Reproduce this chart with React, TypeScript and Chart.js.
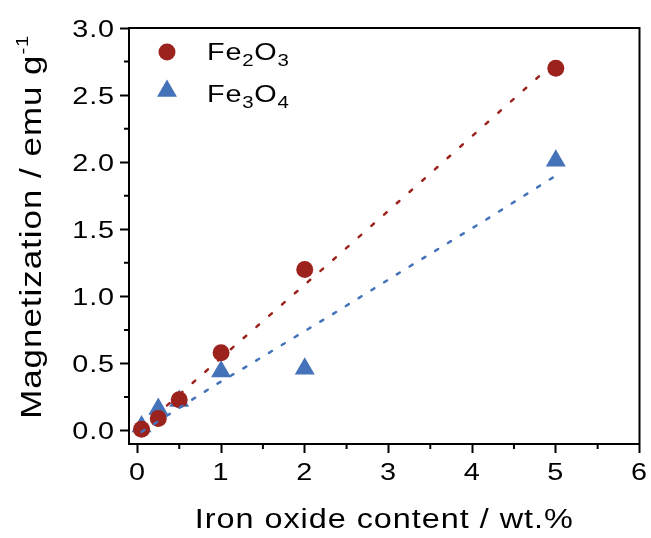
import React, { useEffect, useRef } from "react";
import { Chart, registerables } from "chart.js";

Chart.register(...registerables);

// ---- data ----
const fe2o3X = [0.05, 0.25, 0.5, 1, 2, 5];
const fe2o3Y = [0.01, 0.09, 0.23, 0.58, 1.2, 2.7];
const fe3o4X = [0.05, 0.25, 0.5, 1, 2, 5];
const fe3o4Y = [0.03, 0.16, 0.22, 0.44, 0.46, 2.01];
// dotted fit lines
const fitRedX = [0.05, 1.16, 2.28, 3.4, 4.8, 5];
const fitRedY = [0.02, 0.63, 1.24, 1.86, 2.64, 2.74];
const fitBlueX = [0.05, 0.93, 1.31, 2.34, 3.22, 4.24, 5];
const fitBlueY = [-0.01, 0.34, 0.48, 0.87, 1.21, 1.6, 1.9];
const xTicks = [0, 1, 2, 3, 4, 5, 6];
const yTicks = [0, 0.5, 1, 1.5, 2, 2.5, 3];

const RED = "#9C221E";
const BLUE = "#4473B9";
const FONT = "'Liberation Sans', Arial, sans-serif";
const SX = 1.2;
const SPACING = 0.03;

const pts = (xs: number[], ys: number[]) => xs.map((x, i) => ({ x, y: ys[i] }));

type Run = { t: string; size: number; dy?: number };

function runsWidth(ctx: CanvasRenderingContext2D, runs: Run[]) {
  let w = 0;
  for (const r of runs) {
    ctx.font = `${r.size}px ${FONT}`;
    (ctx as any).letterSpacing = `${(r.size * SPACING).toFixed(2)}px`;
    w += ctx.measureText(r.t).width;
  }
  return w * SX;
}

function drawRuns(
  ctx: CanvasRenderingContext2D,
  runs: Run[],
  x: number,
  y: number,
  align: "left" | "center" | "right",
  rotate = 0
) {
  ctx.save();
  ctx.translate(x, y);
  if (rotate) ctx.rotate(rotate);
  const w = runsWidth(ctx, runs);
  let cx = align === "left" ? 0 : align === "center" ? -w / 2 : -w;
  ctx.scale(SX, 1);
  cx /= SX;
  ctx.fillStyle = "#000";
  ctx.textAlign = "left";
  ctx.textBaseline = "alphabetic";
  for (const r of runs) {
    ctx.font = `${r.size}px ${FONT}`;
    (ctx as any).letterSpacing = `${(r.size * SPACING).toFixed(2)}px`;
    ctx.fillText(r.t, cx, r.dy || 0);
    cx += ctx.measureText(r.t).width;
  }
  ctx.restore();
}

const decorPlugin = {
  id: "decor",
  afterDraw(chart: any) {
    const ctx: CanvasRenderingContext2D = chart.ctx;
    const { left, right, top, bottom } = chart.chartArea;
    const xs = chart.scales.x;
    const ys = chart.scales.y;
    ctx.save();
    ctx.strokeStyle = "#000";
    ctx.lineWidth = 2;
    ctx.beginPath();
    ctx.moveTo(left - 1, top);
    ctx.lineTo(right, top);
    ctx.lineTo(right, bottom + 1);
    ctx.stroke();
    ctx.beginPath();
    for (let v = 0.5; v < 6; v += 1) {
      const px = xs.getPixelForValue(v);
      ctx.moveTo(px, bottom);
      ctx.lineTo(px, bottom + 5);
    }
    for (let v = 0.25; v < 3; v += 0.5) {
      const py = ys.getPixelForValue(v);
      ctx.moveTo(left, py);
      ctx.lineTo(left - 5, py);
    }
    ctx.stroke();
    for (const v of xTicks) {
      drawRuns(ctx, [{ t: String(v), size: 24 }], xs.getPixelForValue(v), bottom + 36, "center");
    }
    for (const v of yTicks) {
      drawRuns(ctx, [{ t: v.toFixed(1), size: 24 }], left - 14, ys.getPixelForValue(v) + 8.5, "right");
    }
    drawRuns(ctx, [{ t: "Iron oxide content / wt.%", size: 27 }], (left + right) / 2, 528, "center");
    drawRuns(
      ctx,
      [
        { t: "Magnetization / emu g", size: 29 },
        { t: "-1", size: 17, dy: -13 },
      ],
      41,
      227,
      "center",
      -Math.PI / 2
    );
    ctx.fillStyle = RED;
    ctx.beginPath();
    ctx.arc(167, 52, 8.5, 0, Math.PI * 2);
    ctx.fill();
    ctx.fillStyle = BLUE;
    ctx.beginPath();
    const r = 11.5;
    const cx = 167, cy = 91;
    ctx.moveTo(cx, cy - r);
    ctx.lineTo(cx + r * Math.sin((2 * Math.PI) / 3), cy - r * Math.cos((2 * Math.PI) / 3));
    ctx.lineTo(cx + r * Math.sin((4 * Math.PI) / 3), cy - r * Math.cos((4 * Math.PI) / 3));
    ctx.closePath();
    ctx.fill();
    drawRuns(
      ctx,
      [
        { t: "Fe", size: 24 },
        { t: "2", size: 17, dy: 6 },
        { t: "O", size: 24 },
        { t: "3", size: 17, dy: 6 },
      ],
      207,
      60,
      "left"
    );
    drawRuns(
      ctx,
      [
        { t: "Fe", size: 24 },
        { t: "3", size: 17, dy: 6 },
        { t: "O", size: 24 },
        { t: "4", size: 17, dy: 6 },
      ],
      207,
      102,
      "left"
    );
    ctx.restore();
  },
};

export default function App() {
  const ref = useRef<HTMLCanvasElement>(null);
  useEffect(() => {
    if (!ref.current) return;
    const chart = new Chart(ref.current, {
      type: "scatter",
      data: {
        datasets: [
          {
            type: "line",
            label: "fit Fe2O3",
            data: pts(fitRedX, fitRedY),
            borderColor: RED,
            borderWidth: 2.5,
            borderDash: [3.5, 13.5],
            borderCapStyle: "round",
            pointRadius: 0,
            fill: false,
            tension: 0,
          },
          {
            type: "line",
            label: "fit Fe3O4",
            data: pts(fitBlueX, fitBlueY),
            borderColor: BLUE,
            borderWidth: 2.5,
            borderDash: [3.5, 11.5],
            borderCapStyle: "round",
            pointRadius: 0,
            fill: false,
            tension: 0,
          },
          {
            label: "Fe2O3",
            data: pts(fe2o3X, fe2o3Y),
            backgroundColor: RED,
            borderColor: RED,
            pointStyle: "circle",
            pointRadius: 8.5,
            borderWidth: 0,
          },
          {
            label: "Fe3O4",
            data: pts(fe3o4X, fe3o4Y),
            backgroundColor: BLUE,
            borderColor: BLUE,
            pointStyle: "triangle",
            pointRadius: 11.5,
            borderWidth: 0,
          },
        ],
      } as any,
      options: {
        animation: false,
        responsive: false,
        devicePixelRatio: 1,
        layout: { padding: { top: 28, right: 0, left: 0, bottom: 0 } },
        plugins: { legend: { display: false }, tooltip: { enabled: false } },
        scales: {
          x: {
            type: "linear",
            min: -0.1,
            max: 6,
            afterFit: (s: any) => {
              s.height = 94;
              s.paddingLeft = 0;
              s.paddingRight = 0;
            },
            afterBuildTicks: (s: any) => {
              s.ticks = xTicks.map((v) => ({ value: v }));
            },
            ticks: { display: false },
            border: { display: true, color: "#000", width: 2 },
            grid: { drawOnChartArea: false, drawTicks: true, tickLength: 9, tickWidth: 2, color: "#000" },
          },
          y: {
            type: "linear",
            min: -0.1,
            max: 3.0,
            afterFit: (s: any) => {
              s.width = 129;
              s.paddingTop = 0;
              s.paddingBottom = 0;
            },
            afterBuildTicks: (s: any) => {
              s.ticks = yTicks.map((v) => ({ value: v }));
            },
            ticks: { display: false },
            border: { display: true, color: "#000", width: 2 },
            grid: { drawOnChartArea: false, drawTicks: true, tickLength: 9, tickWidth: 2, color: "#000" },
          },
        },
      } as any,
      plugins: [decorPlugin],
    });
    return () => chart.destroy();
  }, []);
  return (
    <div style={{ position: "absolute", left: 0, top: 0, width: 651, height: 538, background: "#fff" }}>
      <canvas ref={ref} width={651} height={538} style={{ width: 651, height: 538, display: "block" }} />
    </div>
  );
}
